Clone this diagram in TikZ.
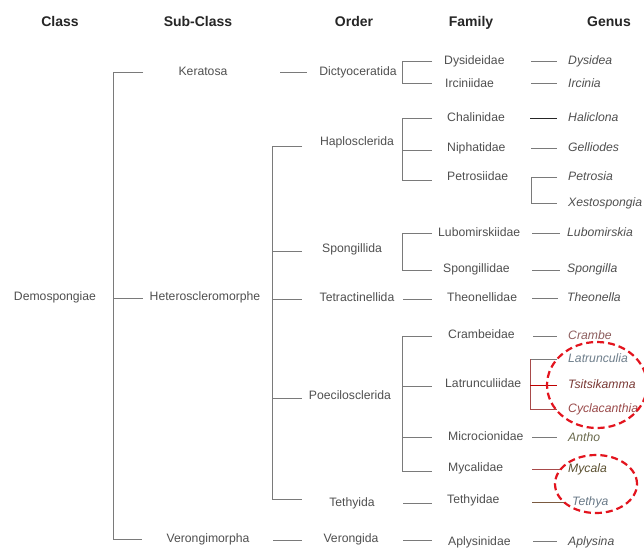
\documentclass[tikz,border=0pt]{standalone}
\usepackage{fontspec}
\setmainfont{Liberation Sans}
\definecolor{txtc}{HTML}{505050}
\definecolor{lnc}{HTML}{7A7A7A}
\definecolor{ringred}{HTML}{E3141E}
\definecolor{crambec}{HTML}{8E5F5F}
\definecolor{latrc}{HTML}{6F7F8C}
\definecolor{tsitc}{HTML}{7A3A36}
\definecolor{cyclc}{HTML}{9A4A4A}
\definecolor{anthoc}{HTML}{6B6B4E}
\definecolor{mycac}{HTML}{5B5030}
\definecolor{tethc}{HTML}{6A7A88}
\definecolor{redln}{HTML}{A84A4A}
\definecolor{brownln}{HTML}{7A5A40}
\begin{document}
\begin{tikzpicture}[x=1pt,y=-1pt,
  base/.style={inner sep=0pt, text height=9.5pt, text depth=2pt},
  hdr/.style={base, font=\fontsize{14}{16}\selectfont\bfseries, text=black!85},
  tx/.style={base, font=\fontsize{12.2}{14}\selectfont, text=txtc},
  fam/.style={tx, anchor=west},
  gen/.style={tx, anchor=west, font=\fontsize{12.2}{14}\selectfont\itshape},
  ln/.style={draw=lnc, line width=0.8pt},
  ring/.style={draw=ringred, line width=2.2pt, dash pattern=on 7pt off 4pt}]
\useasboundingbox (0,0) rectangle (644,547);
\fill[white] (0,0) rectangle (644,547);

% headers
\node[hdr] (hClass) at (60,23) {Class};
\node[hdr] (hSub) at (198,23) {Sub-Class};
\node[hdr] (hOrd) at (354,23) {Order};
\node[hdr] (hFam) at (471,23) {Family};
\node[hdr] (hGen) at (609,23) {Genus};

% class
\node[tx] (demo) at (55,297) {Demospongiae};

% sub-classes
\node[tx] (ker) at (203,72) {Keratosa};
\node[tx] (het) at (205,297) {Heteroscleromorphe};
\node[tx] (ver) at (208,539) {Verongimorpha};

% orders
\node[tx] (dic) at (358,72) {Dictyoceratida};
\node[tx] (hap) at (357,142) {Haplosclerida};
\node[tx] (spo) at (352,249) {Spongillida};
\node[tx] (tet) at (357,298) {Tetractinellida};
\node[tx] (poe) at (350,396) {Poecilosclerida};
\node[tx] (teth) at (352,503) {Tethyida};
\node[tx] (vero) at (351,539) {Verongida};

% families
\node[fam] (dys) at (444,61) {Dysideidae};
\node[fam] (irc) at (445,84) {Irciniidae};
\node[fam] (cha) at (447,118) {Chalinidae};
\node[fam] (nip) at (447,148) {Niphatidae};
\node[fam] (pet) at (447,177) {Petrosiidae};
\node[fam] (lub) at (438,233) {Lubomirskiidae};
\node[fam] (spf) at (443,269) {Spongillidae};
\node[fam] (the) at (447,298) {Theonellidae};
\node[fam] (cra) at (448,335) {Crambeidae};
\node[fam] (lat) at (445,384) {Latrunculiidae};
\node[fam] (mic) at (448,437) {Microcionidae};
\node[fam] (myc) at (448,468) {Mycalidae};
\node[fam] (tef) at (447,500) {Tethyidae};
\node[fam] (apl) at (448,542) {Aplysinidae};

% genera
\node[gen] (gdys) at (568,61) {Dysidea};
\node[gen] (girc) at (568,84) {Ircinia};
\node[gen] (ghal) at (568,118) {Haliclona};
\node[gen] (ggel) at (568,148) {Gelliodes};
\node[gen] (gpet) at (568,177) {Petrosia};
\node[gen] (gxes) at (568,203) {Xestospongia};
\node[gen] (glub) at (567,233) {Lubomirskia};
\node[gen] (gspo) at (567,269) {Spongilla};
\node[gen] (gthe) at (567,298) {Theonella};
\node[gen, text=crambec] (gcra) at (568,336) {Crambe};
\node[gen, text=latrc] (glat) at (568,359) {Latrunculia};
\node[gen, text=tsitc] (gtsi) at (568,385) {Tsitsikamma};
\node[gen, text=cyclc] (gcyc) at (568,409) {Cyclacanthia};
\node[gen, text=anthoc] (gant) at (568,438) {Antho};
\node[gen, text=mycac] (gmyc) at (568,469) {Mycala};
\node[gen, text=tethc] (gtet) at (572,502) {Tethya};
\node[gen] (gapl) at (568,542) {Aplysina};

% sub-class bracket
\draw[ln] (143,72) -- (113,72) -- (113,539) -- (142,539);
\draw[ln] (113,298) -- (143,298);

% sub-class to order
\draw[ln] (280,72) -- (307,72);
\draw[ln] (302,146) -- (272,146) -- (272,499) -- (302,499);
\draw[ln] (272,251) -- (302,251);
\draw[ln] (272,299) -- (302,299);
\draw[ln] (272,398) -- (302,398);
\draw[ln] (273,540) -- (302,540);

% order to family
\draw[ln] (432,61) -- (402,61) -- (402,83) -- (432,83);
\draw[ln] (432,118) -- (402,118) -- (402,180) -- (432,180);
\draw[ln] (402,150) -- (432,150);
\draw[ln] (432,233) -- (402,233) -- (402,270) -- (432,270);
\draw[ln] (403,299) -- (432,299);
\draw[ln] (432,336) -- (402,336) -- (402,471) -- (432,471);
\draw[ln] (402,386) -- (432,386);
\draw[ln] (402,437) -- (432,437);
\draw[ln] (403,503) -- (432,503);
\draw[ln] (403,540) -- (432,540);

% family to genus
\draw[ln] (531,61) -- (557,61);
\draw[ln] (531,83) -- (557,83);
\draw[ln, draw=black!85] (530,118) -- (557,118);
\draw[ln] (531,148) -- (557,148);
\draw[ln] (557,177) -- (531,177) -- (531,203) -- (557,203);
\draw[ln] (532,233) -- (560,233);
\draw[ln] (532,270) -- (560,270);
\draw[ln] (532,298) -- (558,298);
\draw[ln] (533,336) -- (557,336);
\draw[ln] (557,359) -- (530,359);
\draw[ln, draw=redln] (530,359) -- (530,409) -- (557,409);
\draw[ln, draw=red!75!black] (530,385) -- (557,385);
\draw[ln] (532,437) -- (557,437);
\draw[ln, draw=redln] (532,469) -- (562,469);
\draw[ln, draw=brownln] (532,502) -- (565,502);
\draw[ln] (533,541) -- (557,541);

% highlight rings
\draw[ring] (597,385) ellipse [x radius=50pt, y radius=43pt];
\draw[ring] (596,484) ellipse [x radius=41pt, y radius=29pt];
\end{tikzpicture}
\end{document}
